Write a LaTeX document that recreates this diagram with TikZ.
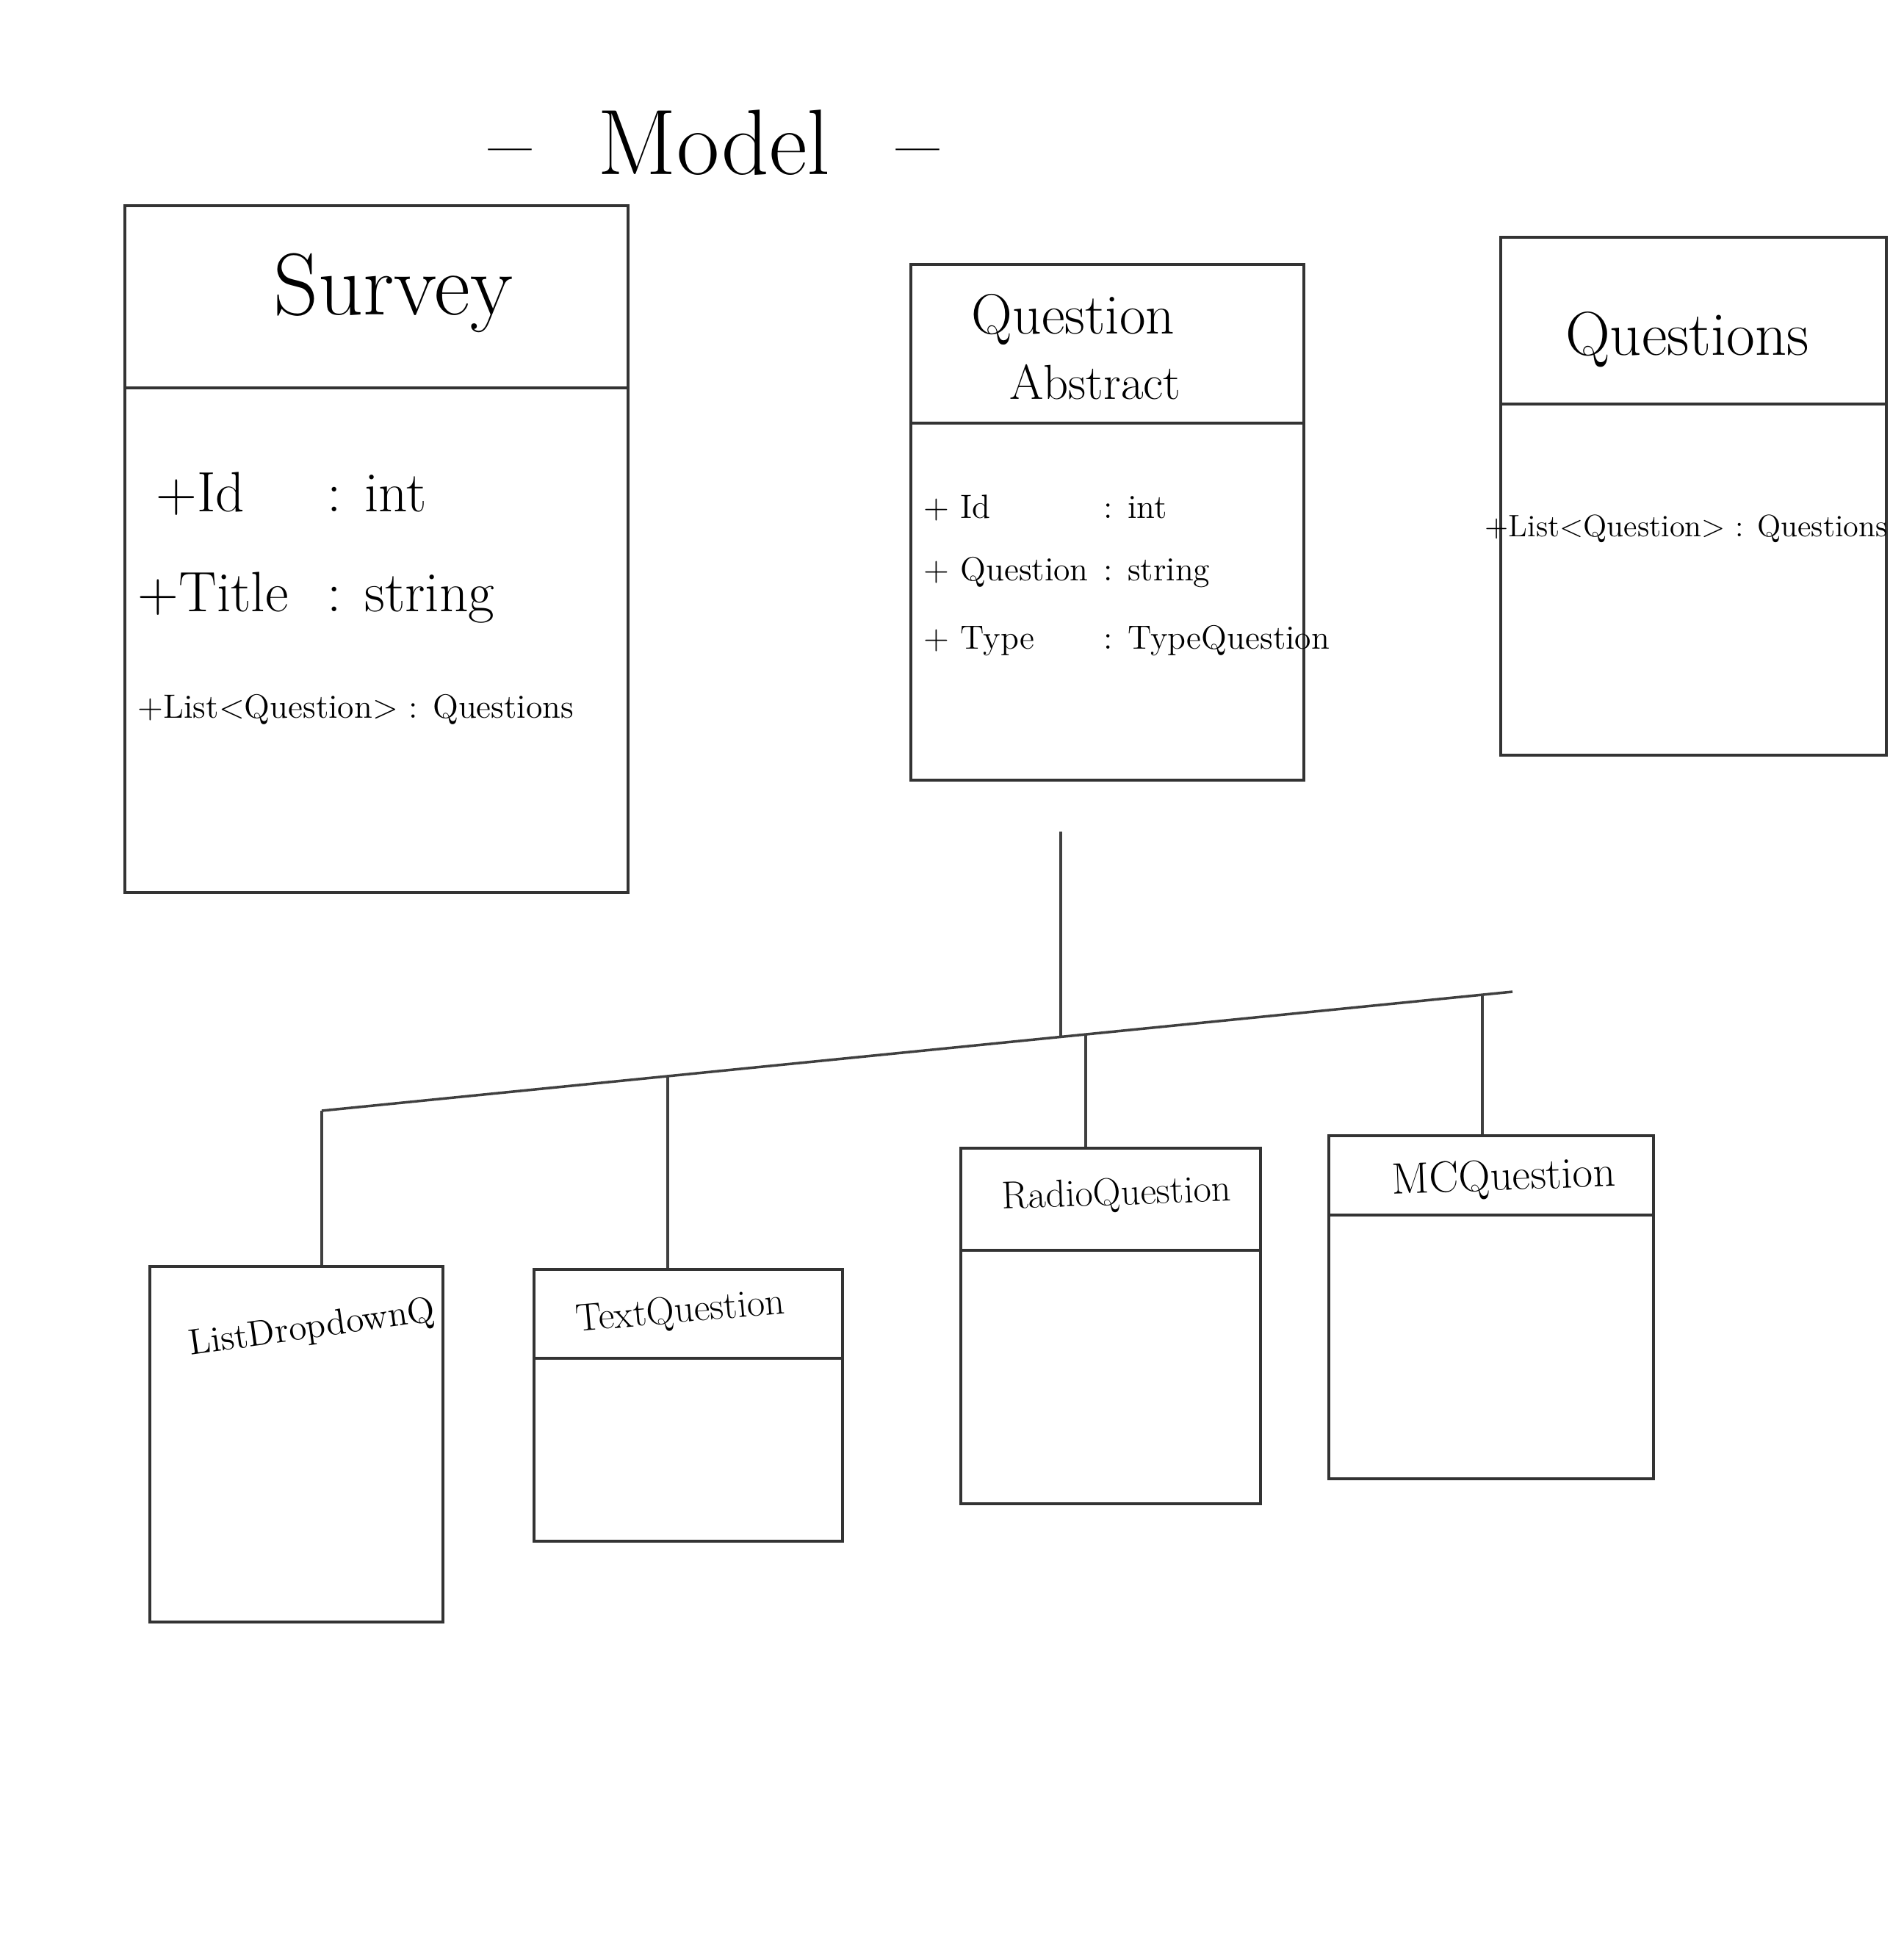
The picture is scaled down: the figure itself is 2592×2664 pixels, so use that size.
\documentclass[tikz,border=0pt]{standalone}
\usepackage{tikz}
\usetikzlibrary{calc, positioning}

\begin{document}
\begin{tikzpicture}[x=0.01cm, y=-0.01cm,
    classbox/.style={draw=black!80, line width=1.1pt, inner sep=0pt},
    sepline/.style={draw=black!80, line width=1.1pt},
    link/.style={draw=black!75, line width=1pt},
    attr/.style={anchor=base west, inner sep=0pt}]
    \useasboundingbox (0,0) rectangle (2592,2664);
    \node[anchor=base, font=\fontsize{36}{42}\selectfont] (title) at (972,238) {--\hspace{0.9cm}Model\hspace{0.9cm}--};

    \node[classbox, minimum width=6.85cm, minimum height=9.35cm] (survey) at (512.5,747.5) {};
    \draw[sepline] ([yshift=-2.5cm]survey.north west) -- ([yshift=-2.5cm]survey.north east);
    \node[font=\fontsize{34}{40}\selectfont] (surveyname) at (535,399) {Survey};
    \node[attr, font=\fontsize{22}{26}\selectfont] (surveyid) at (212,696) {\makebox[2.33cm][l]{+Id}: int};
    \node[attr, font=\fontsize{22}{26}\selectfont] (surveytitle) at (187,832) {\makebox[2.58cm][l]{+Title}: string};
    \node[attr, font=\fontsize{13}{16}\selectfont] (surveylist) at (187,977) {+List<Question> : Questions};

    \node[classbox, minimum width=5.35cm, minimum height=7.02cm] (question) at (1507.5,711) {};
    \draw[sepline] ([yshift=-2.18cm]question.north west) -- ([yshift=-2.18cm]question.north east);
    \node[font=\fontsize{22}{26}\selectfont] (questionname) at (1461,435) {Question};
    \node[font=\fontsize{19}{22}\selectfont, below=0.02cm of questionname, xshift=0.3cm] (questionabstract) {Abstract};
    \node[attr, font=\fontsize{13}{16}\selectfont] (questionid) at (1257,705) {\makebox[2.45cm][l]{+ Id}: int};
    \node[attr, font=\fontsize{13}{16}\selectfont] (questiontext) at (1257,790) {\makebox[2.45cm][l]{+ Question}: string};
    \node[attr, font=\fontsize{13}{16}\selectfont] (questiontype) at (1257,883) {\makebox[2.45cm][l]{+ Type}: TypeQuestion};

    \node[classbox, minimum width=5.25cm, minimum height=7.05cm] (questions) at (2305.5,675.5) {};
    \draw[sepline] ([yshift=-2.29cm]questions.north west) -- ([yshift=-2.29cm]questions.north east);
    \node[font=\fontsize{24}{28}\selectfont] (questionsname) at (2297,462) {Questions};
    \node[attr, font=\fontsize{12}{14}\selectfont] (questionslist) at (2021,730) {+List<Question> : Questions};

    \node[classbox, minimum width=3.99cm, minimum height=4.84cm] (ldd) at (403.5,1966) {};
    \node[font=\fontsize{14}{17}\selectfont, rotate=8] (lddname) at (425,1809) {ListDropdownQ};

    \node[classbox, minimum width=4.2cm, minimum height=3.7cm] (textq) at (937,1913) {};
    \draw[sepline] ([yshift=-1.23cm]textq.north west) -- ([yshift=-1.23cm]textq.north east);
    \node[font=\fontsize{15}{18}\selectfont, rotate=5] (textqname) at (926,1787) {TextQuestion};

    \node[classbox, minimum width=4.08cm, minimum height=4.84cm] (radioq) at (1512,1805) {};
    \draw[sepline] ([yshift=-1.41cm]radioq.north west) -- ([yshift=-1.41cm]radioq.north east);
    \node[font=\fontsize{15}{18}\selectfont, rotate=2] (radioqname) at (1520,1627) {RadioQuestion};

    \node[classbox, minimum width=4.42cm, minimum height=4.67cm] (mcq) at (2030,1779.5) {};
    \draw[sepline] ([yshift=-1.1cm]mcq.north west) -- ([yshift=-1.1cm]mcq.north east);
    \node[font=\fontsize{17}{20}\selectfont, rotate=2] (mcqname) at (2047,1605) {MCQuestion};

    \coordinate (stemtop) at ($(question.south)+(-63.5,68)$);
    \coordinate (stemfoot) at (1444,1411);
    \coordinate (barleft) at (438,1512);
    \coordinate (barright) at (2059,1350);
    \draw[link] (stemtop) -- (stemfoot);
    \draw[link] (barleft) -- (barright);
    \foreach \cls/\xx/\yy in {ldd/438/1512, textq/909/1465, radioq/1478/1408, mcq/2018/1354} {
        \coordinate (drop\cls) at (\xx,\yy);
        \draw[link] (drop\cls) -- (\cls.north -| drop\cls);
    }
\end{tikzpicture}
\end{document}
